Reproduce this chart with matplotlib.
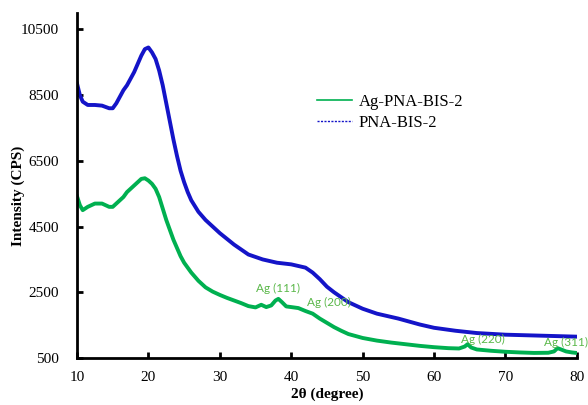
import matplotlib
matplotlib.use("Agg")
import matplotlib.pyplot as plt
from matplotlib.lines import Line2D

# values (2theta in degree, intensity in CPS)
blue_x = [10, 10.4, 10.8, 11.5, 12.5, 13.5, 14.5, 15, 15.5, 16, 16.5, 17, 17.5, 18, 18.5,
          19, 19.5, 20, 20.5, 21, 21.5, 22, 22.5, 23, 23.5, 24, 24.5, 25, 25.5, 26, 27, 28,
          30, 32, 34, 36, 38, 40, 42, 43, 44, 45, 46, 48, 50, 52, 55, 58, 60, 63, 66, 70,
          75, 80]
blue_y = [8850, 8500, 8300, 8200, 8200, 8180, 8100, 8100, 8250, 8450, 8650, 8800, 9000,
          9200, 9450, 9700, 9900, 9950, 9800, 9600, 9250, 8800, 8250, 7700, 7150, 6650, 6200,
          5850, 5550, 5300, 4950, 4700, 4300, 3950, 3650, 3500, 3400, 3350, 3250, 3100, 2900,
          2670, 2500, 2200, 2000, 1850, 1700, 1520, 1420, 1330, 1260, 1210, 1180, 1150]

green_x = [10, 10.4, 10.8, 11.5, 12.5, 13.5, 14.5, 15, 15.5, 16, 16.5, 17, 18, 18.5, 19,
           19.5, 20, 20.5, 21, 21.5, 22, 22.5, 23, 23.5, 24, 24.5, 25, 25.5, 26, 27, 28, 29,
           30, 31, 32, 33, 34, 35, 35.8, 36.5, 37.2, 37.8, 38.2, 38.7, 39.3, 40, 41, 42, 43,
           44, 45, 46, 47, 48, 50, 52, 54, 56, 58, 60, 62, 63.5, 64.3, 64.7, 65.2, 66, 68,
           70, 72, 74, 76, 76.8, 77.3, 77.8, 78.5, 79.3, 80]
green_y = [5420, 5150, 5000, 5100, 5200, 5200, 5100, 5100, 5200, 5300, 5400, 5550, 5750,
           5850, 5950, 5970, 5900, 5800, 5650, 5400, 5050, 4700, 4400, 4100, 3850, 3600,
           3400, 3250, 3100, 2850, 2650, 2520, 2420, 2330, 2250, 2170, 2080, 2040, 2120,
           2050, 2100, 2250, 2300, 2200, 2070, 2050, 2020, 1930, 1850, 1700, 1570, 1440,
           1330, 1230, 1110, 1030, 970, 920, 870, 830, 800, 790, 850, 920, 820, 760, 720,
           690, 670, 655, 660, 700, 800, 760, 700, 670, 653]

peak_labels = ["Ag (111)", "Ag (200)", "Ag (220)", "Ag (311)"]
peak_x = [38.2, 45.3, 66.9, 78.5]
peak_y = [2610, 2180, 1050, 960]

BLUE = "#1414C8"
GREEN = "#00B050"
LABEL_GREEN = "#5BB84A"

plt.rcParams["font.family"] = ["Liberation Serif"]

fig = plt.figure(figsize=(5.88, 4.05), dpi=100)
ax = fig.add_axes([0.131, 0.116, 0.850, 0.852])

ax.plot(blue_x, blue_y, color=BLUE, lw=2.8, solid_joinstyle="round")
ax.plot(green_x, green_y, color=GREEN, lw=2.8, solid_joinstyle="round")

for txt, px, py in zip(peak_labels, peak_x, peak_y):
    ax.text(px, py, txt, color=LABEL_GREEN, fontsize=8.5, family="Lato",
            ha="center", va="center", clip_on=False)

ax.set_xlim(10, 80)
ax.set_ylim(500, 11000)
ax.set_xticks(range(10, 81, 10))
ax.set_yticks(range(500, 10501, 2000))
ax.tick_params(direction="in", length=4, width=2, labelsize=11)
ax.tick_params(axis="y", pad=13)
ax.tick_params(axis="x", pad=9)
for side in ("top", "right"):
    ax.spines[side].set_visible(False)
for side in ("left", "bottom"):
    ax.spines[side].set_linewidth(2)

ax.set_xlabel("2θ (degree)", fontsize=11, fontweight="bold")
ax.set_ylabel("Intensity (CPS)", fontsize=11, fontweight="bold")
ax.xaxis.set_label_coords(0.5, -0.085)
ax.yaxis.set_label_coords(-0.104, 0.47)

handles = [Line2D([], [], color=GREEN, lw=1.2),
           Line2D([], [], color=BLUE, lw=1, ls=(0, (1.5, 1)))]
ax.legend(handles, ["Ag-PNA-BIS-2", "PNA-BIS-2"], loc="upper left",
          bbox_to_anchor=(0.45, 0.81), frameon=False, fontsize=12,
          handlelength=2.1, handletextpad=0.4, labelspacing=0.3)

fig.savefig("out.png", dpi=100)
